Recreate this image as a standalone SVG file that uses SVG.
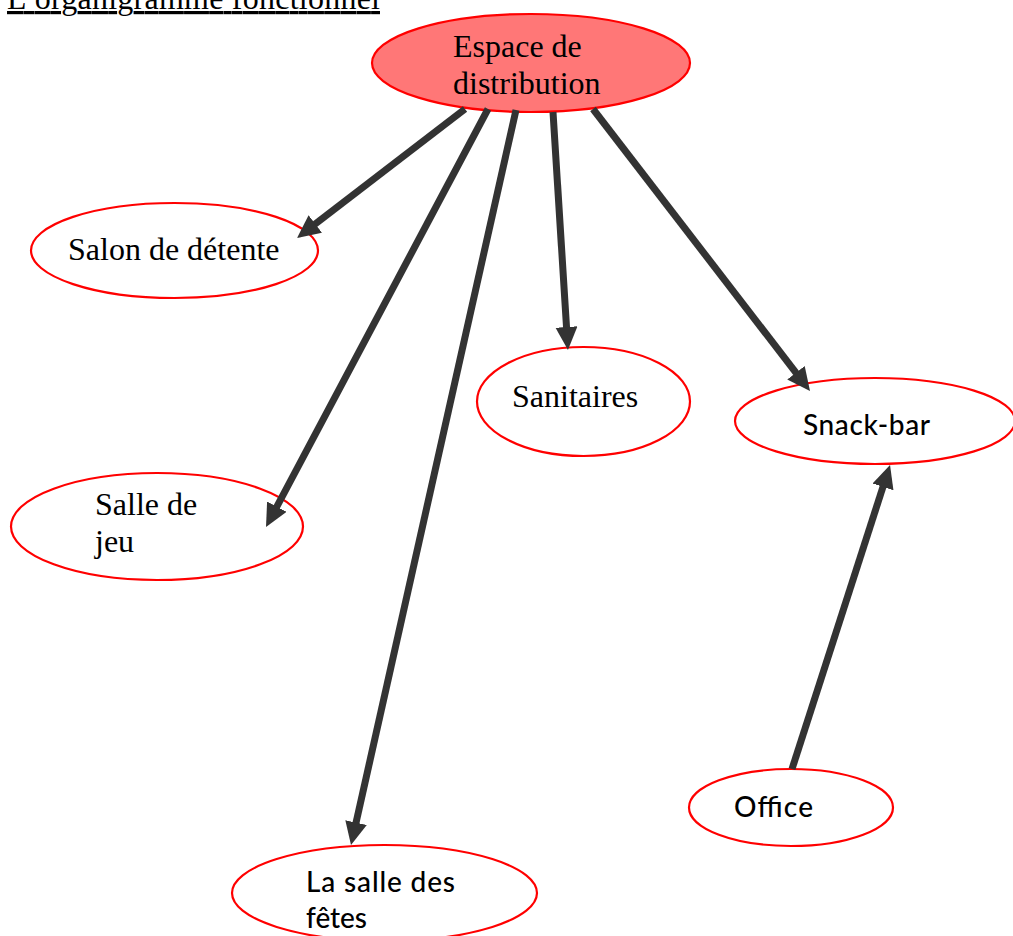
<svg xmlns="http://www.w3.org/2000/svg" width="1013" height="936" viewBox="0 0 1013 936">
<style>
  .node { fill: #ffffff; stroke: #ff0000; stroke-width: 2.2; }
  .main { fill: #ff7777; stroke: #ff0000; stroke-width: 2.2; }
  .serif { font-family: "Liberation Serif", "Times New Roman", serif; font-size: 32px; fill: #000000; }
  .sans { font-family: Lato, "Open Sans", sans-serif; font-size: 28px; font-weight: 500; fill: #000000; }
  .edge { stroke: #333333; stroke-width: 7; fill: none; marker-end: url(#arrow); }
</style>
<defs>
  <marker id="arrow" markerUnits="userSpaceOnUse" markerWidth="24" markerHeight="24" refX="3" refY="11" orient="auto">
    <path d="M0,0 L23,11 L0,22 z" fill="#333333"/>
  </marker>
</defs>
<rect width="1013" height="936" fill="#ffffff"/>
<text x="7" y="9" class="serif" textLength="373" text-decoration="underline">L’organigramme fonctionnel</text>

<g id="espace">
  <ellipse class="main" cx="531" cy="63" rx="159" ry="49"/>
  <text class="serif" x="453" y="57">Espace de</text>
  <text class="serif" x="453" y="94">distribution</text>
</g>
<g id="salon">
  <ellipse class="node" cx="174.5" cy="250.5" rx="143.5" ry="47.5"/>
  <text class="serif" x="68" y="260">Salon de détente</text>
</g>
<g id="sanitaires">
  <ellipse class="node" cx="583.5" cy="401.5" rx="106.5" ry="54.5"/>
  <text class="serif" x="512" y="407">Sanitaires</text>
</g>
<g id="snackbar">
  <ellipse class="node" cx="875" cy="421" rx="140" ry="43"/>
  <text class="sans" x="803" y="435" textLength="127">Snack-bar</text>
</g>
<g id="sallejeu">
  <ellipse class="node" cx="157" cy="526.5" rx="146" ry="53.5"/>
  <text class="serif" x="95" y="515">Salle de</text>
  <text class="serif" x="95" y="552">jeu</text>
</g>
<g id="office">
  <ellipse class="node" cx="791" cy="807.5" rx="102" ry="38.5"/>
  <text class="sans" x="734" y="817" textLength="79">Office</text>
</g>
<g id="fetes">
  <ellipse class="node" cx="384.5" cy="893" rx="152.5" ry="48"/>
  <text class="sans" x="306" y="892" textLength="149">La salle des</text>
  <text class="sans" x="306" y="928" textLength="61">fêtes</text>
</g>

<g id="connectors">
  <line class="edge" x1="465" y1="109" x2="312.9" y2="225.8"/>
  <line class="edge" x1="488" y1="109" x2="275.4" y2="509.3"/>
  <line class="edge" x1="516" y1="110" x2="355.4" y2="825.5"/>
  <line class="edge" x1="553" y1="112" x2="566.7" y2="330"/>
  <line class="edge" x1="593" y1="109" x2="797.8" y2="375.1"/>
  <line class="edge" x1="792" y1="769" x2="883.9" y2="484"/>
</g>
</svg>
